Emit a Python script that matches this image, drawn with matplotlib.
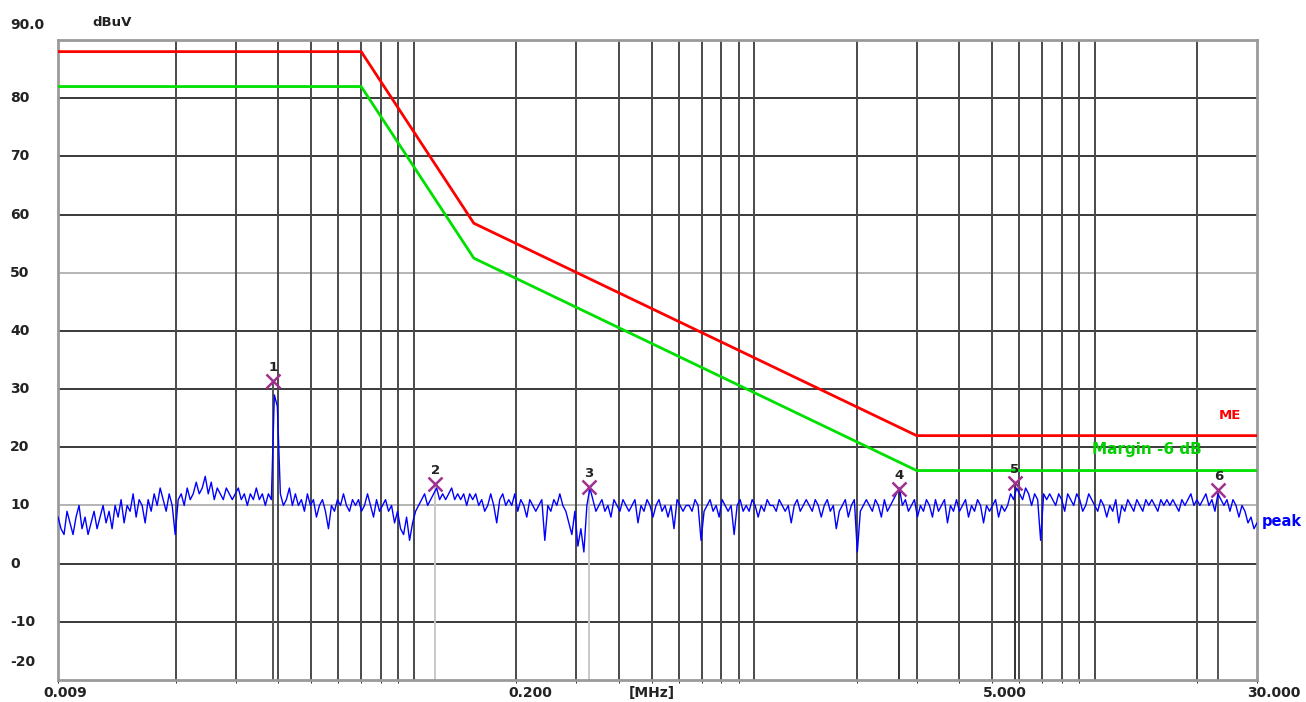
import numpy as np
import matplotlib.pyplot as plt

# limit line corners (MHz, dBuV)
limit_f = [0.009, 0.07, 0.15, 3.0, 30.0]
limit_me = [88.0, 88.0, 58.5, 22.0, 22.0]
margin_db = 6.0

# peak markers
mark_f = [0.0386, 0.1155, 0.326, 2.66, 5.83, 23.1]
mark_lv = [31.4, 13.7, 13.2, 12.9, 13.9, 12.7]
mark_col = ["#555555", "#c8c8c8", "#c8c8c8", "#333333", "#333333", "#555555"]

# peak detector sweep, dBuV
level = [
    8, 6, 5, 9, 7, 5, 8, 10, 6, 8,
    5, 7, 9, 6, 8, 10, 7, 9, 6, 10,
    8, 11, 7, 10, 9, 12, 8, 11, 10, 7,
    11, 9, 12, 10, 13, 11, 9, 12, 10, 5,
    11, 12, 10, 13, 11, 12, 14, 12, 13, 15,
    12, 14, 11, 13, 12, 11, 13, 12, 11, 12,
    13, 11, 12, 10, 12, 11, 13, 11, 12, 10,
    12, 11, 29, 27, 12, 10, 11, 13, 10, 12,
    10, 11, 9, 12, 10, 11, 8, 10, 11, 9,
    6, 10, 9, 11, 10, 12, 10, 9, 11, 10,
    11, 9, 10, 12, 10, 8, 11, 9, 10, 11,
    9, 10, 7, 9, 6, 5, 8, 4, 7, 9,
    10, 11, 12, 10, 11, 12, 13, 11, 12, 11,
    12, 13, 11, 12, 11, 12, 10, 12, 11, 12,
    10, 11, 9, 10, 12, 10, 7, 11, 12, 10,
    11, 10, 12, 9, 11, 10, 8, 11, 10, 9,
    10, 11, 4, 10, 9, 11, 10, 12, 10, 9,
    7, 5, 9, 3, 6, 2, 10, 13, 11, 9,
    10, 11, 9, 10, 8, 11, 10, 9, 11, 10,
    9, 10, 11, 7, 10, 9, 11, 10, 8, 10,
    11, 9, 10, 8, 10, 6, 11, 10, 9, 10,
    10, 9, 11, 10, 4, 9, 10, 11, 9, 10,
    8, 11, 10, 9, 10, 5, 10, 11, 9, 10,
    9, 11, 10, 8, 10, 9, 11, 10, 10, 9,
    11, 10, 9, 10, 7, 10, 11, 9, 10, 11,
    10, 9, 11, 10, 8, 10, 11, 9, 10, 6,
    9, 10, 11, 8, 10, 11, 2, 9, 10, 11,
    10, 9, 11, 10, 8, 11, 9, 10, 11, 12,
    13, 10, 11, 9, 10, 11, 8, 10, 9, 11,
    10, 8, 11, 9, 10, 11, 7, 10, 9, 11,
    9, 10, 11, 8, 10, 9, 11, 10, 7, 10,
    9, 10, 11, 8, 10, 9, 10, 12, 11, 13,
    12, 11, 13, 12, 10, 12, 11, 4, 12, 11,
    12, 11, 10, 12, 11, 9, 12, 11, 10, 12,
    11, 9, 10, 12, 11, 10, 9, 11, 10, 8,
    10, 9, 11, 7, 10, 9, 11, 10, 9, 11,
    10, 9, 11, 10, 11, 10, 9, 11, 10, 11,
    10, 11, 10, 9, 11, 10, 11, 12, 10, 11,
    10, 11, 12, 10, 11, 9, 12, 11, 10, 11,
    9, 11, 10, 8, 10, 9, 7, 8, 6, 7,
]
freq = np.geomspace(0.009, 30.0, len(level))

W, H = 1306, 702
fig = plt.figure(figsize=(W / 100, H / 100), dpi=100)
ax = fig.add_axes([58 / W, 1 - 680 / H, (1257 - 58) / W, (680 - 40) / H])
ax.set_xscale("log")
ax.set_xlim(0.009, 30)
ax.set_ylim(-20, 90)

# grid
for y in range(-10, 90, 10):
    c = "#b4b4b4" if y in (10, 50) else "#3a3a3a"
    ax.axhline(y, color=c, lw=1.4, zorder=1)
vlines = [m * 10.0 ** e for e in (-2, -1, 0, 1) for m in range(1, 10)]
for f in vlines:
    if 0.011 < f < 29:
        ax.axvline(f, color="#4a4a4a", lw=1.4, zorder=1)

for f, lv, c in zip(mark_f, mark_lv, mark_col):
    ax.plot([f, f], [-20, lv], color=c, lw=1.4, zorder=1)

ax.plot(freq, level, color="#0000ff", lw=1.0, zorder=3)
ax.plot(limit_f, limit_me, color="#ff0000", lw=2.0, zorder=4)
ax.plot(limit_f, [v - margin_db for v in limit_me], color="#00e000", lw=2.0, zorder=4)

ax.plot(mark_f, mark_lv, "x", color="#a03090", ms=10, mew=1.8, zorder=5)
for i, (f, lv) in enumerate(zip(mark_f, mark_lv)):
    ax.text(f, lv + 1.2, str(i + 1), ha="center", va="bottom", fontsize=9.5,
            fontweight="bold", color="#222222", zorder=6)

ax.text(23.2, 25.4, "ME", color="#ff0000", fontsize=9.5, fontweight="bold", va="center")
ax.text(14.2, 19.6, "Margin -6 dB", color="#00d000", fontsize=11, fontweight="bold",
        ha="center", va="center")
ax.text(31.0, 6.5, "peak", color="#0000ff", fontsize=10.5, fontweight="bold",
        clip_on=False)

ax.set_xticks([])
ax.set_yticks([])
for s in ax.spines.values():
    s.set_color("#9a9a9a")
    s.set_linewidth(2)

tk = dict(fontsize=10, fontweight="bold", color="#222222")
for y in range(80, -20, -10):
    fig.text(10 / W, 1 - (40 + (90 - y) * 640 / 110) / H, str(y), va="center", ha="left", **tk)
fig.text(10 / W, 1 - 662 / H, "-20", va="center", ha="left", **tk)
fig.text(10 / W, 1 - 25 / H, "90.0", va="center", ha="left", **tk)
fig.text(92 / W, 1 - 22 / H, "dBuV", va="center", ha="left", fontsize=9.5,
         fontweight="bold", color="#222222")

for x, s in [(65, "0.009"), (530, "0.200"), (652, "[MHz]"), (1005, "5.000"), (1274, "30.000")]:
    fig.text(x / W, 1 - 693 / H, s, va="center", ha="center", **tk)

fig.savefig("out.png", dpi=100, facecolor="white")
